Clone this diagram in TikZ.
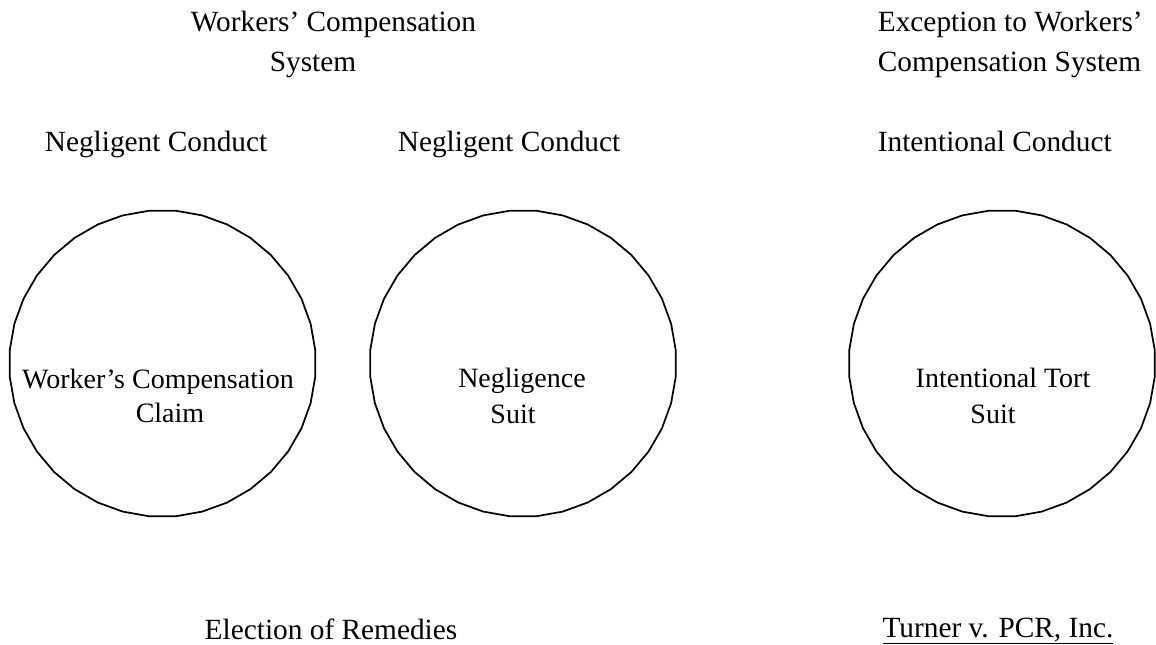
\documentclass[tikz,border=0pt]{standalone}
\usepackage{fontspec}
\setmainfont{Liberation Serif}
\usetikzlibrary{shapes.geometric}

\tikzset{every picture/.style={line width=1.3pt}}
\tikzset{
  remedy/.style={draw, regular polygon, regular polygon sides=36, minimum size=230pt, inner sep=0pt},
  heading/.style={inner sep=0pt, font=\fontsize{22}{26}\selectfont},
  inlabel/.style={inner sep=0pt, font=\fontsize{21}{25}\selectfont}
}

\begin{document}
\begin{tikzpicture}[x=0.75pt,y=0.75pt,yscale=-1,xscale=1]
\useasboundingbox (0,0) rectangle (1156,645);

%Text: headings
\node [heading, anchor=base west] (wcHead) at (190,32) {Workers’ Compensation};
\node [heading, anchor=base] (wcHeadB) at (313,72) {System};
\node [heading, anchor=base west] (exHead) at (877,32) {Exception to Workers’};
\node [heading, anchor=base west] (exHeadB) at (877,72) {Compensation System};

%Text: conduct
\node [heading, anchor=base west] (negA) at (44,152) {Negligent Conduct};
\node [heading, anchor=base west] (negB) at (397,152) {Negligent Conduct};
\node [heading, anchor=base west] (intC) at (877,152) {Intentional Conduct};

%Shape: Circles
\node [remedy] (wcClaim) at (162.5,363.5) {};
\node [remedy] (negSuit) at (523,363.5) {};
\node [remedy] (tortSuit) at (1002,363.5) {};

%Text: inside circles
\node [inlabel, anchor=base] (wcText) at (158,388) {Worker’s Compensation};
\node [inlabel, anchor=base] (wcTextB) at (170,422) {Claim};
\node [inlabel, anchor=base] (negText) at (522,387) {Negligence};
\node [inlabel, anchor=base] (negTextB) at (513,423) {Suit};
\node [inlabel, anchor=base] (tortText) at (1003,387) {Intentional Tort};
\node [inlabel, anchor=base] (tortTextB) at (993,423) {Suit};

%Text: bottom
\node [heading, anchor=base] (election) at (331,639) {Election of Remedies};
\node [heading, anchor=base] (turner) at (998,637) {\underline{Turner v. PCR, Inc.}};

\end{tikzpicture}
\end{document}
